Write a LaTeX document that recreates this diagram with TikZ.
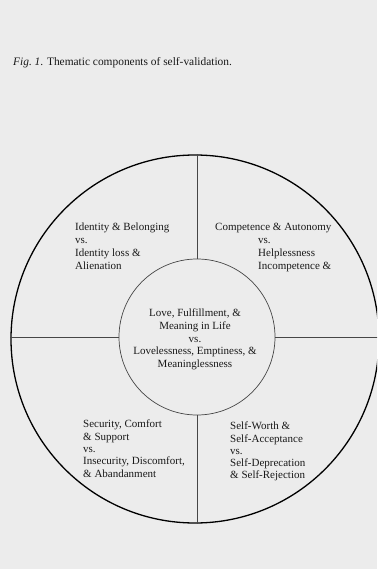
\documentclass[tikz,border=0pt]{standalone}
\usepackage{fontspec}
\setmainfont{Liberation Serif}
\definecolor{paper}{RGB}{236,236,236}
\definecolor{inkline}{RGB}{70,70,70}
\begin{document}
\begin{tikzpicture}[x=1pt,y=1pt,
  lab/.style={inner sep=0pt, font=\fontsize{11}{12.6}\selectfont, align=left, text=black!90},
  divider/.style={draw=inkline, line width=0.8pt},
]
\useasboundingbox (0,0) rectangle (377,-569);
\fill[paper] (0,0) rectangle (377,-569);
\clip (0,0) rectangle (377,-569);

\node[lab, font=\fontsize{11.4}{13}\selectfont, anchor=base west] (title) at (13,-66) {\textit{Fig.\ 1}. Thematic components of self-validation.};

\node[circle, draw=black, line width=1.3pt, minimum size=368pt, inner sep=0pt] (outer) at (195,-339) {};
\node[circle, draw=inkline, line width=0.7pt, minimum size=156pt, inner sep=0pt] (inner) at (197,-337) {};

\draw[divider] (inner.north) -- (inner.north |- outer.north);
\draw[divider] (inner.south) -- (inner.south |- outer.south);
\draw[divider] (inner.west) -- (inner.west -| outer.west);
\draw[divider] (inner.east) -- (inner.east -| outer.east);

\node[lab, align=center, anchor=north] (core) at (195,-309) {Love, Fulfillment, \&\\Meaning in Life\\vs.\\Lovelessness, Emptiness, \&\\Meaninglessness};

\node[lab, font=\fontsize{11}{13}\selectfont, anchor=north west] (ul) at (75,-223) {Identity \& Belonging\\vs.\\Identity loss \&\\Alienation};

\node[lab, font=\fontsize{11}{13}\selectfont, anchor=north west] (ur) at (215,-223) {Competence \& Autonomy\\\hspace*{43pt}vs.\\\hspace*{43pt}Helplessness\\\hspace*{43pt}Incompetence \&};

\node[lab, font=\fontsize{11}{12.3}\selectfont, anchor=north west] (ll) at (83,-420) {Security, Comfort\\\& Support\\vs.\\Insecurity, Discomfort,\\\& Abandanment};

\node[lab, font=\fontsize{11}{12.2}\selectfont, anchor=north west] (lr) at (230,-422) {Self-Worth \&\\Self-Acceptance\\vs.\\Self-Deprecation\\\& Self-Rejection};
\end{tikzpicture}
\end{document}
